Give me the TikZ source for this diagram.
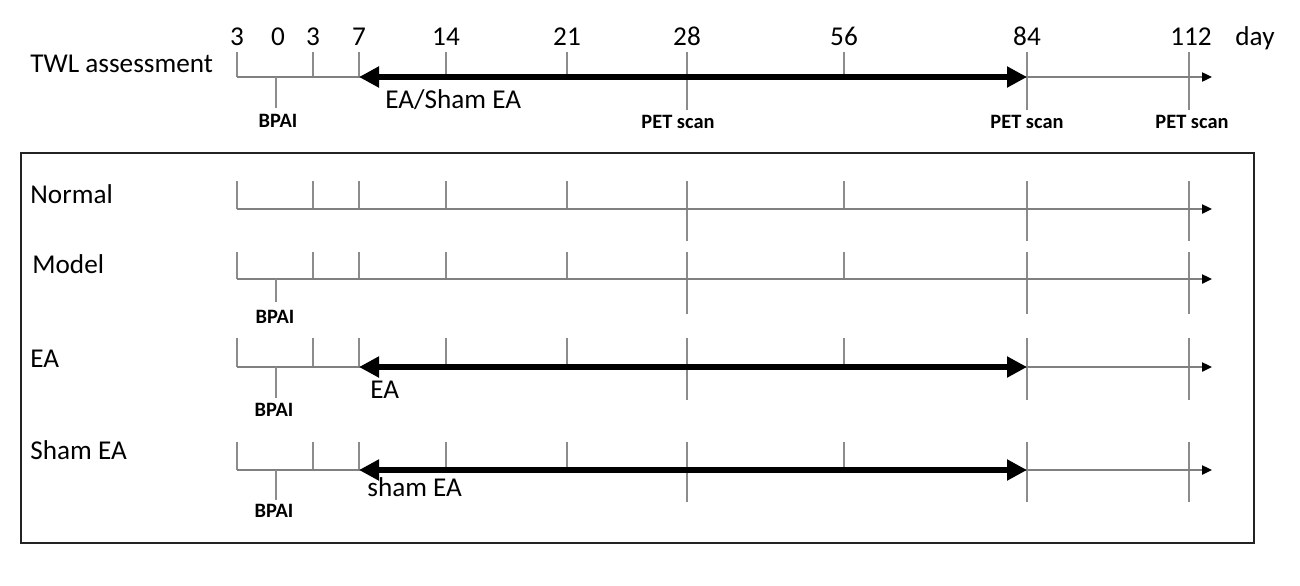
\documentclass[tikz,border=0pt]{standalone}
\usepackage{fontspec}
\setmainfont{Carlito}
\usetikzlibrary{arrows.meta}
\definecolor{axisgray}{RGB}{128,128,128}
\definecolor{tickgray}{RGB}{140,140,140}
\definecolor{framec}{RGB}{35,35,35}
\begin{document}
\begin{tikzpicture}[x=0.5pt,y=-0.5pt,
  lbl/.style={font=\fontsize{13.6}{16}\selectfont, inner sep=0pt, anchor=base west},
  num/.style={font=\fontsize{13.6}{16}\selectfont, inner sep=0pt, anchor=base},
  small/.style={font=\fontsize{10.2}{12}\selectfont\bfseries, inner sep=0pt, anchor=base},
  axis/.style={draw=axisgray, line width=0.85pt, -{Triangle[length=5pt,width=4.6pt,color=black]}},
  tickline/.style={draw=tickgray, line width=0.7pt},
  treat/.style={line width=3.2pt, {Triangle[length=10pt,width=10pt]}-{Triangle[length=10pt,width=10pt]}}
]
\useasboundingbox (0,0) rectangle (1300,585);
\fill[white] (0,0) rectangle (1300,585);

% frame
\draw[framec, line width=1pt] (21,153) rectangle (1254,543);

% timelines
\foreach \r/\yl/\yt/\yb in {top/77/52/110, nor/209/181/241, mod/279/252/314, ea/367/338/400, sham/470/442/502} {
  \coordinate (L\r) at (237,\yl);
  \coordinate (R\r) at (1212,\yl);
  \coordinate (A\r) at (359,\yl);
  \coordinate (B\r) at (1027,\yl);
  \foreach \x in {237,313,359,446,567,844} \draw[tickline] (\x,\yt) -- (\x,\yl);
  \foreach \x in {687,1027,1189} \draw[tickline] (\x,\yt) -- (\x,\yb);
  \draw[axis] (L\r) -- (R\r);
}

% BPAI ticks
\foreach \yl/\yb in {77/108, 279/302, 367/398, 470/500} \draw[tickline] (276,\yl) -- (276,\yb);

% treatment arrows
\draw[treat] (Atop) -- (Btop);
\draw[treat] (Aea) -- (Bea);
\draw[treat] (Asham) -- (Bsham);

% top scale
\node[lbl] (twl) at (30,72) {TWL assessment};
\node[num] (d1) at (237,45) {3};
\node[num] (d2) at (278,45) {0};
\node[num] (d3) at (313,45) {3};
\node[num] (d4) at (359,45) {7};
\node[num] (d5) at (446,45) {14};
\node[num] (d6) at (567,45) {21};
\node[num] (d7) at (687,45) {28};
\node[num] (d8) at (844,45) {56};
\node[num] (d9) at (1027,45) {84};
\node[num] (d10) at (1191,45) {112};
\node[num] (day) at (1255,45) {day};
\node[small] (bpaitop) at (278,127) {BPAI};
\node[small] (pet1) at (678,128) {PET scan};
\node[small] (pet2) at (1027,128) {PET scan};
\node[small] (pet3) at (1192,128) {PET scan};
\node[lbl] (eash) at (385,108) {EA/Sham EA};

% groups
\node[lbl] (normal) at (30,203) {Normal};
\node[lbl] (model) at (32,273) {Model};
\node[small] (bpaimod) at (275,323) {BPAI};
\node[lbl] (ea) at (30,367) {EA};
\node[lbl] (ealbl) at (370,398) {EA};
\node[small] (bpaiea) at (274,416) {BPAI};
\node[lbl] (sham) at (30,459) {Sham EA};
\node[lbl] (shamlbl) at (367,496) {sham EA};
\node[small] (bpaisham) at (274,517) {BPAI};
\end{tikzpicture}
\end{document}
